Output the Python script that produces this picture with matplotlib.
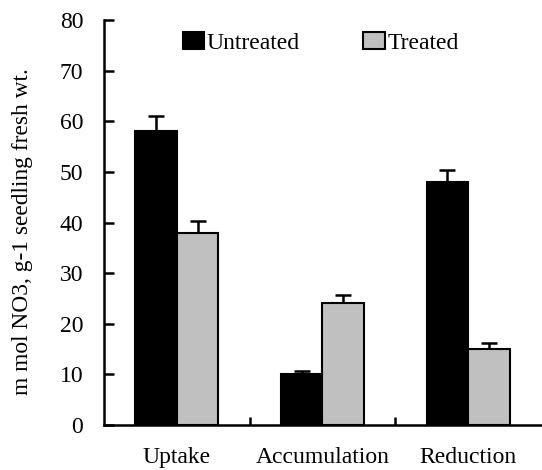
import numpy as np
import matplotlib
matplotlib.use('Agg')
import matplotlib.pyplot as plt
from matplotlib.ticker import FixedLocator, NullFormatter

plt.rcParams['font.family'] = ['Liberation Serif', 'DejaVu Serif']

# ==========================
#        Data
# ==========================
categories = ['Uptake', 'Accumulation', 'Reduction']
untreated = [58, 10, 48]
untreated_err = [3.0, 0.7, 2.4]
treated = [38, 24, 15]
treated_err = [2.3, 1.6, 1.2]

# ==========================
#        Plotting
# ==========================
fig = plt.figure(figsize=(5.42, 4.70), dpi=100)
ax = fig.add_axes([0.192, 0.096, 0.806, 0.861])

x = np.arange(len(categories))
w = 0.285

ax.bar(x - w/2, untreated, w, color='black', edgecolor='black',
       linewidth=1.5, label='Untreated', zorder=2)
ax.bar(x + w/2, treated, w, color='#c0c0c0', edgecolor='black',
       linewidth=1.5, label='Treated', zorder=2)

err_kw = dict(fmt='none', ecolor='black', elinewidth=1.8, capsize=6,
              capthick=1.8, zorder=1)
ax.errorbar(x - w/2, untreated, yerr=[np.zeros(3), untreated_err], **err_kw)
ax.errorbar(x + w/2, treated, yerr=[np.zeros(3), treated_err], **err_kw)

ax.set_xlim(-0.5, 2.5)
ax.set_ylim(0, 80)
ax.set_yticks(np.arange(0, 81, 10))

# category labels centred, ticks at group boundaries
ax.xaxis.set_major_locator(FixedLocator([0.5, 1.5]))
ax.xaxis.set_major_formatter(NullFormatter())
ax.xaxis.set_minor_locator(FixedLocator(x))
ax.set_xticklabels(categories, minor=True)
ax.tick_params(axis='x', which='major', direction='in', length=6, width=1.8)
ax.tick_params(axis='x', which='minor', length=0, pad=16, labelsize=17)
ax.tick_params(axis='y', direction='in', length=7, width=1.8, labelsize=17,
               pad=15)

for s in ['top', 'right']:
    ax.spines[s].set_visible(False)
for s in ['left', 'bottom']:
    ax.spines[s].set_linewidth(1.8)

ax.set_ylabel('m mol NO3, g-1 seedling fresh wt.', fontsize=16.8)
ax.yaxis.set_label_coords(-0.163, 0.478)

ax.legend(loc='upper center', bbox_to_anchor=(0.496, 0.993), ncol=2,
          frameon=False, fontsize=17, handlelength=0.9, handleheight=0.68,
          handletextpad=0.1, columnspacing=2.7, borderaxespad=0)

plt.savefig('out.png', dpi=100)
